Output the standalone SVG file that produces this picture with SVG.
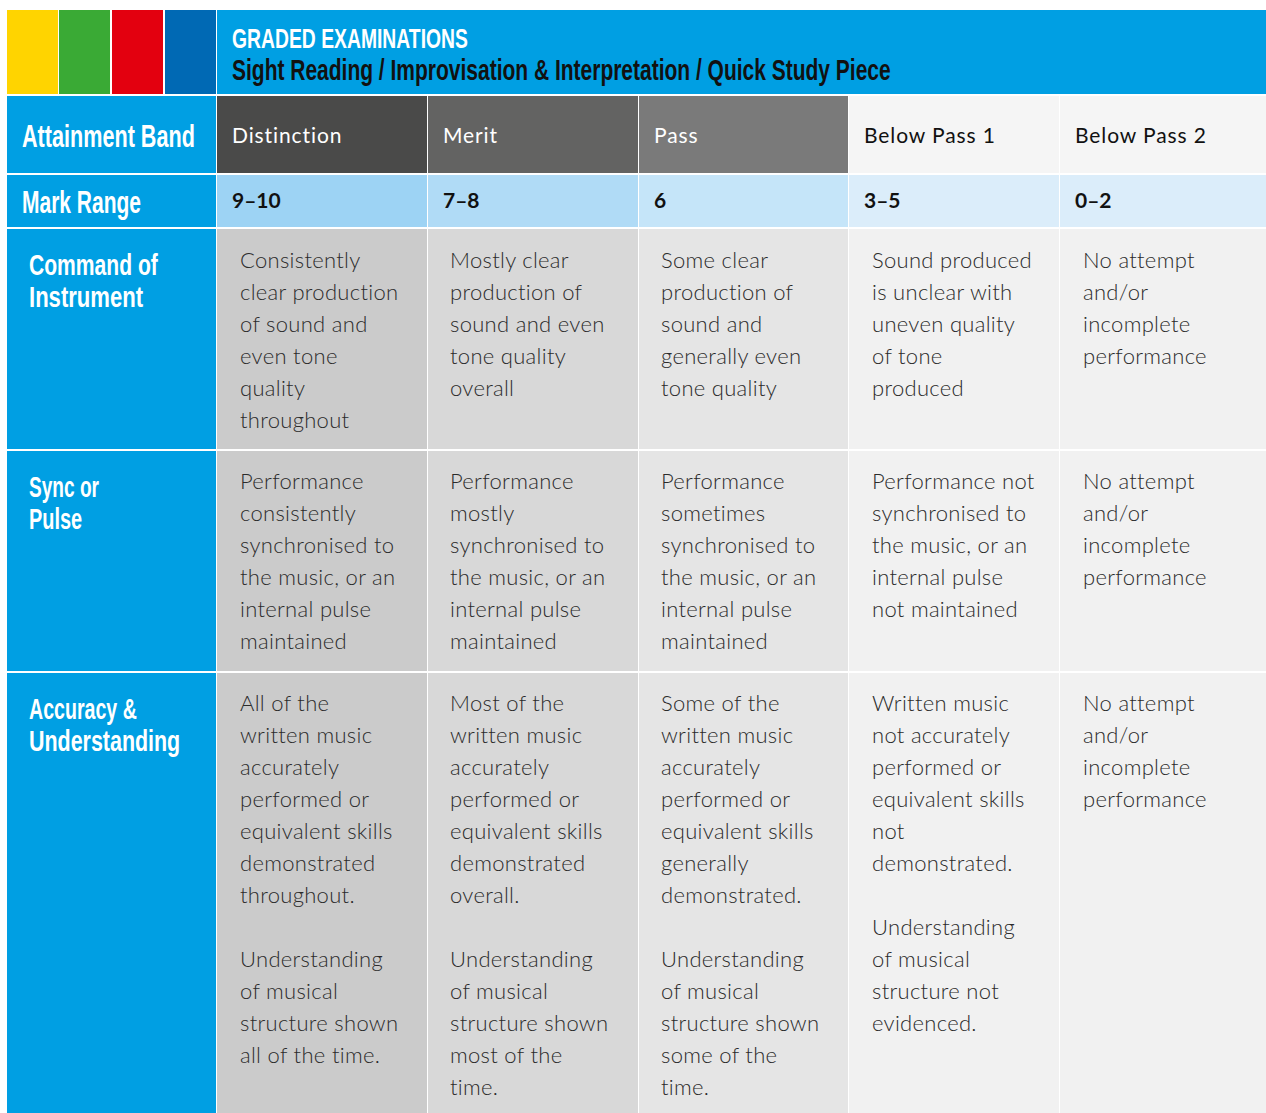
<svg xmlns="http://www.w3.org/2000/svg" width="1266" height="1113" viewBox="0 0 1266 1113">
<style>
.hd{font-family:"Liberation Sans",Arial,sans-serif;font-weight:bold;fill:#fff}
.ttl{font-family:"Liberation Sans",Arial,sans-serif;font-weight:bold}
.band{font-family:Lato,"Open Sans",sans-serif;font-size:21px;font-weight:400;letter-spacing:0.9px}
.mark{font-family:Lato,"Open Sans",sans-serif;font-size:21px;font-weight:700;fill:#111}
.body{font-family:Lato,"Open Sans",sans-serif;font-size:22px;font-weight:300;fill:#2b2b2b;letter-spacing:0.3px}
</style>
<rect width="1266" height="1113" fill="#ffffff"/>
<g id="color-blocks">
<rect x="7" y="10" width="51" height="84" fill="#ffd400"/>
<rect x="59" y="10" width="51" height="84" fill="#3aaa35"/>
<rect x="112" y="10" width="51" height="84" fill="#e3000f"/>
<rect x="165" y="10" width="51" height="84" fill="#0069b4"/>
</g>
<g id="title">
<rect x="217" y="10" width="1049" height="84" fill="#009fe3"/>
<text class="ttl" transform="translate(232,48) scale(0.7,1)" x="0" y="0" font-size="28" fill="#ffffff" textLength="337" lengthAdjust="spacingAndGlyphs">GRADED EXAMINATIONS</text>
<text class="ttl" transform="translate(232,80) scale(0.7,1)" x="0" y="0" font-size="29" fill="#111111" textLength="941" lengthAdjust="spacingAndGlyphs">Sight Reading / Improvisation &amp; Interpretation / Quick Study Piece</text>
</g>
<g id="row-labels">
<rect x="7" y="96" width="209" height="77" fill="#009fe3"/>
<text class="hd" transform="translate(22,147) scale(0.7,1)" x="0" y="0" font-size="31" textLength="247" lengthAdjust="spacingAndGlyphs">Attainment Band</text>
<rect x="7" y="175" width="209" height="52" fill="#009fe3"/>
<text class="hd" transform="translate(22,213) scale(0.7,1)" x="0" y="0" font-size="31" textLength="170" lengthAdjust="spacingAndGlyphs">Mark Range</text>
<rect x="7" y="229" width="209" height="220" fill="#009fe3"/>
<text class="hd" transform="translate(29,275) scale(0.7,1)" x="0" y="0" font-size="30" textLength="184" lengthAdjust="spacingAndGlyphs">Command of</text>
<text class="hd" transform="translate(29,307) scale(0.7,1)" x="0" y="0" font-size="30" textLength="163" lengthAdjust="spacingAndGlyphs">Instrument</text>
<rect x="7" y="451" width="209" height="220" fill="#009fe3"/>
<text class="hd" transform="translate(29,497) scale(0.7,1)" x="0" y="0" font-size="30" textLength="100" lengthAdjust="spacingAndGlyphs">Sync or</text>
<text class="hd" transform="translate(29,529) scale(0.7,1)" x="0" y="0" font-size="30" textLength="76" lengthAdjust="spacingAndGlyphs">Pulse</text>
<rect x="7" y="673" width="209" height="440" fill="#009fe3"/>
<text class="hd" transform="translate(29,719) scale(0.7,1)" x="0" y="0" font-size="30" textLength="154" lengthAdjust="spacingAndGlyphs">Accuracy &amp;</text>
<text class="hd" transform="translate(29,751) scale(0.7,1)" x="0" y="0" font-size="30" textLength="216" lengthAdjust="spacingAndGlyphs">Understanding</text>
</g>
<g id="col-distinction">
<rect x="217" y="96" width="210" height="77" fill="#4a4a49"/>
<text class="band" x="232" y="143" fill="#ffffff">Distinction</text>
<rect x="217" y="175" width="210" height="52" fill="#9dd3f4"/>
<text class="mark" x="232" y="208">9–10</text>
<rect x="217" y="229" width="210" height="220" fill="#cbcbcb"/>
<text class="body" x="240" y="268"><tspan x="240">Consistently</tspan><tspan x="240" dy="32">clear production</tspan><tspan x="240" dy="32">of sound and</tspan><tspan x="240" dy="32">even tone</tspan><tspan x="240" dy="32">quality</tspan><tspan x="240" dy="32">throughout</tspan></text>
<rect x="217" y="451" width="210" height="220" fill="#cbcbcb"/>
<text class="body" x="240" y="489"><tspan x="240">Performance</tspan><tspan x="240" dy="32">consistently</tspan><tspan x="240" dy="32">synchronised to</tspan><tspan x="240" dy="32">the music, or an</tspan><tspan x="240" dy="32">internal pulse</tspan><tspan x="240" dy="32">maintained</tspan></text>
<rect x="217" y="673" width="210" height="440" fill="#cbcbcb"/>
<text class="body" x="240" y="711"><tspan x="240">All of the</tspan><tspan x="240" dy="32">written music</tspan><tspan x="240" dy="32">accurately</tspan><tspan x="240" dy="32">performed or</tspan><tspan x="240" dy="32">equivalent skills</tspan><tspan x="240" dy="32">demonstrated</tspan><tspan x="240" dy="32">throughout.</tspan><tspan x="240" dy="64">Understanding</tspan><tspan x="240" dy="32">of musical</tspan><tspan x="240" dy="32">structure shown</tspan><tspan x="240" dy="32">all of the time.</tspan></text>
</g>
<g id="col-merit">
<rect x="428" y="96" width="210" height="77" fill="#636362"/>
<text class="band" x="443" y="143" fill="#ffffff">Merit</text>
<rect x="428" y="175" width="210" height="52" fill="#b0dbf6"/>
<text class="mark" x="443" y="208">7–8</text>
<rect x="428" y="229" width="210" height="220" fill="#d8d8d8"/>
<text class="body" x="450" y="268"><tspan x="450">Mostly clear</tspan><tspan x="450" dy="32">production of</tspan><tspan x="450" dy="32">sound and even</tspan><tspan x="450" dy="32">tone quality</tspan><tspan x="450" dy="32">overall</tspan></text>
<rect x="428" y="451" width="210" height="220" fill="#d8d8d8"/>
<text class="body" x="450" y="489"><tspan x="450">Performance</tspan><tspan x="450" dy="32">mostly</tspan><tspan x="450" dy="32">synchronised to</tspan><tspan x="450" dy="32">the music, or an</tspan><tspan x="450" dy="32">internal pulse</tspan><tspan x="450" dy="32">maintained</tspan></text>
<rect x="428" y="673" width="210" height="440" fill="#d8d8d8"/>
<text class="body" x="450" y="711"><tspan x="450">Most of the</tspan><tspan x="450" dy="32">written music</tspan><tspan x="450" dy="32">accurately</tspan><tspan x="450" dy="32">performed or</tspan><tspan x="450" dy="32">equivalent skills</tspan><tspan x="450" dy="32">demonstrated</tspan><tspan x="450" dy="32">overall.</tspan><tspan x="450" dy="64">Understanding</tspan><tspan x="450" dy="32">of musical</tspan><tspan x="450" dy="32">structure shown</tspan><tspan x="450" dy="32">most of the</tspan><tspan x="450" dy="32">time.</tspan></text>
</g>
<g id="col-pass">
<rect x="639" y="96" width="209" height="77" fill="#7a7a7a"/>
<text class="band" x="654" y="143" fill="#ffffff">Pass</text>
<rect x="639" y="175" width="209" height="52" fill="#c5e5f9"/>
<text class="mark" x="654" y="208">6</text>
<rect x="639" y="229" width="209" height="220" fill="#e5e5e5"/>
<text class="body" x="661" y="268"><tspan x="661">Some clear</tspan><tspan x="661" dy="32">production of</tspan><tspan x="661" dy="32">sound and</tspan><tspan x="661" dy="32">generally even</tspan><tspan x="661" dy="32">tone quality</tspan></text>
<rect x="639" y="451" width="209" height="220" fill="#e5e5e5"/>
<text class="body" x="661" y="489"><tspan x="661">Performance</tspan><tspan x="661" dy="32">sometimes</tspan><tspan x="661" dy="32">synchronised to</tspan><tspan x="661" dy="32">the music, or an</tspan><tspan x="661" dy="32">internal pulse</tspan><tspan x="661" dy="32">maintained</tspan></text>
<rect x="639" y="673" width="209" height="440" fill="#e5e5e5"/>
<text class="body" x="661" y="711"><tspan x="661">Some of the</tspan><tspan x="661" dy="32">written music</tspan><tspan x="661" dy="32">accurately</tspan><tspan x="661" dy="32">performed or</tspan><tspan x="661" dy="32">equivalent skills</tspan><tspan x="661" dy="32">generally</tspan><tspan x="661" dy="32">demonstrated.</tspan><tspan x="661" dy="64">Understanding</tspan><tspan x="661" dy="32">of musical</tspan><tspan x="661" dy="32">structure shown</tspan><tspan x="661" dy="32">some of the</tspan><tspan x="661" dy="32">time.</tspan></text>
</g>
<g id="col-below-pass-1">
<rect x="849" y="96" width="210" height="77" fill="#f5f5f5"/>
<text class="band" x="864" y="143" fill="#111111">Below Pass 1</text>
<rect x="849" y="175" width="210" height="52" fill="#dbedfa"/>
<text class="mark" x="864" y="208">3–5</text>
<rect x="849" y="229" width="210" height="220" fill="#f1f1f1"/>
<text class="body" x="872" y="268"><tspan x="872">Sound produced</tspan><tspan x="872" dy="32">is unclear with</tspan><tspan x="872" dy="32">uneven quality</tspan><tspan x="872" dy="32">of tone</tspan><tspan x="872" dy="32">produced</tspan></text>
<rect x="849" y="451" width="210" height="220" fill="#f1f1f1"/>
<text class="body" x="872" y="489"><tspan x="872">Performance not</tspan><tspan x="872" dy="32">synchronised to</tspan><tspan x="872" dy="32">the music, or an</tspan><tspan x="872" dy="32">internal pulse</tspan><tspan x="872" dy="32">not maintained</tspan></text>
<rect x="849" y="673" width="210" height="440" fill="#f1f1f1"/>
<text class="body" x="872" y="711"><tspan x="872">Written music</tspan><tspan x="872" dy="32">not accurately</tspan><tspan x="872" dy="32">performed or</tspan><tspan x="872" dy="32">equivalent skills</tspan><tspan x="872" dy="32">not</tspan><tspan x="872" dy="32">demonstrated.</tspan><tspan x="872" dy="64">Understanding</tspan><tspan x="872" dy="32">of musical</tspan><tspan x="872" dy="32">structure not</tspan><tspan x="872" dy="32">evidenced.</tspan></text>
</g>
<g id="col-below-pass-2">
<rect x="1060" y="96" width="206" height="77" fill="#f5f5f5"/>
<text class="band" x="1075" y="143" fill="#111111">Below Pass 2</text>
<rect x="1060" y="175" width="206" height="52" fill="#dbedfa"/>
<text class="mark" x="1075" y="208">0–2</text>
<rect x="1060" y="229" width="206" height="220" fill="#f1f1f1"/>
<text class="body" x="1083" y="268"><tspan x="1083">No attempt</tspan><tspan x="1083" dy="32">and/or</tspan><tspan x="1083" dy="32">incomplete</tspan><tspan x="1083" dy="32">performance</tspan></text>
<rect x="1060" y="451" width="206" height="220" fill="#f1f1f1"/>
<text class="body" x="1083" y="489"><tspan x="1083">No attempt</tspan><tspan x="1083" dy="32">and/or</tspan><tspan x="1083" dy="32">incomplete</tspan><tspan x="1083" dy="32">performance</tspan></text>
<rect x="1060" y="673" width="206" height="440" fill="#f1f1f1"/>
<text class="body" x="1083" y="711"><tspan x="1083">No attempt</tspan><tspan x="1083" dy="32">and/or</tspan><tspan x="1083" dy="32">incomplete</tspan><tspan x="1083" dy="32">performance</tspan></text>
</g>
<g id="connectors"/>
</svg>
